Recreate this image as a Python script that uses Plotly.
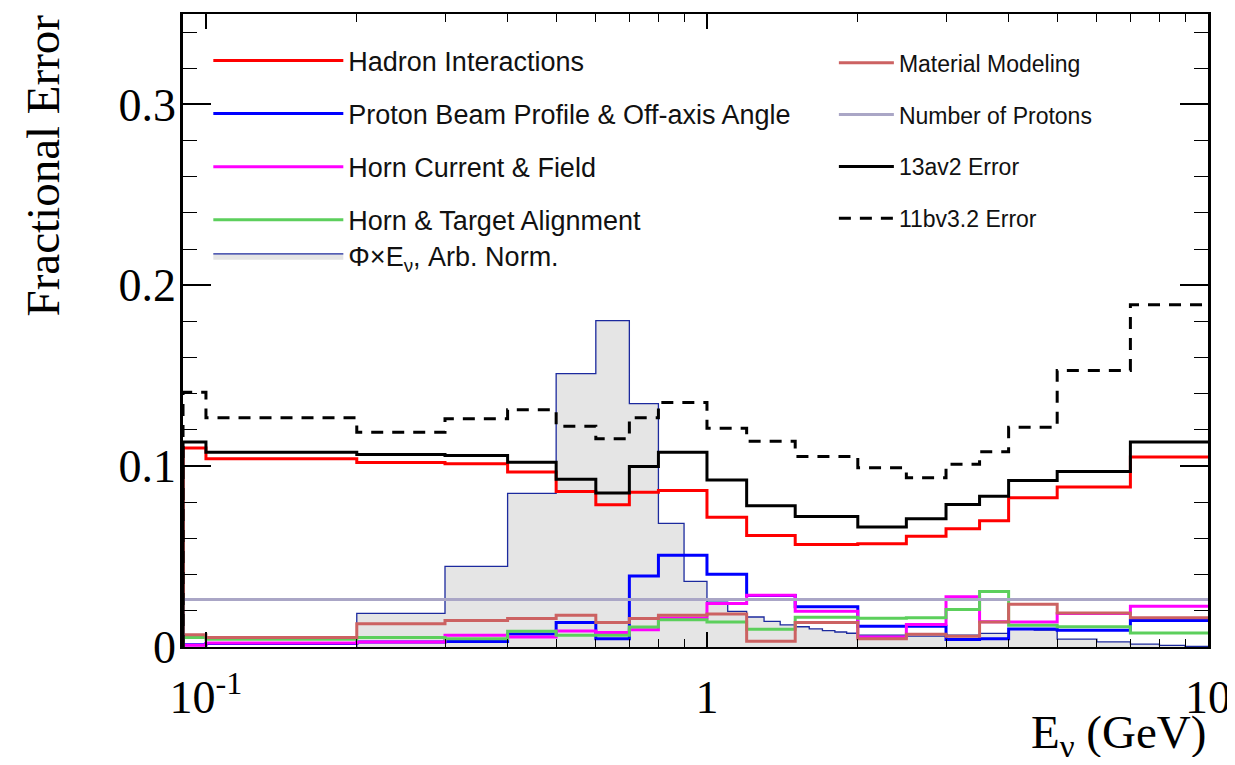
import plotly.graph_objects as go

# ---------------- data ----------------
# error binning (GeV); first bin 0-0.1 is drawn from the axis lower limit
err_edges = [0.09, 0.1, 0.2, 0.3, 0.4, 0.5, 0.6, 0.7, 0.8, 1.0, 1.2, 1.5,
             2.0, 2.5, 3.0, 3.5, 4.0, 5.0, 7.0, 10.0]

hadron = [0.110, 0.1041, 0.102, 0.1013, 0.0967, 0.086, 0.0787, 0.0855, 0.0866,
          0.0717, 0.0617, 0.0567, 0.0571, 0.0612, 0.0654, 0.0698, 0.0825, 0.0884, 0.105]
beam = [0.0012, 0.0020, 0.0028, 0.0030, 0.0072, 0.0135, 0.0046, 0.0392, 0.0507,
        0.0402, 0.0285, 0.0223, 0.0115, 0.0115, 0.0041, 0.0046, 0.0099, 0.0092, 0.0147]
horn = [0.0009, 0.0022, 0.0028, 0.0065, 0.0055, 0.0088, 0.0080, 0.0096, 0.0160,
        0.0240, 0.0286, 0.0197, 0.0055, 0.0125, 0.0278, 0.0140, 0.0138, 0.0185, 0.0226]
align = [0.0052, 0.0043, 0.0052, 0.0046, 0.0087, 0.0065, 0.0065, 0.0110, 0.0151,
         0.0138, 0.0098, 0.0164, 0.0159, 0.0162, 0.0207, 0.0307, 0.0120, 0.0112, 0.0077]
material = [0.0068, 0.0052, 0.0129, 0.0147, 0.0157, 0.0175, 0.0135, 0.0157, 0.0175,
            0.0182, 0.0032, 0.0135, 0.0045, 0.0070, 0.0059, 0.0138, 0.0236, 0.0188, 0.0162]
protons = [0.0263] * 19
total_13av2 = [0.1133, 0.1077, 0.1065, 0.1059, 0.1021, 0.0927, 0.0851, 0.0998, 0.1077,
               0.0923, 0.0781, 0.0722, 0.0663, 0.0709, 0.0788, 0.0833, 0.0921, 0.0971, 0.1133]
total_11bv32 = [0.1409, 0.1267, 0.1188, 0.1262, 0.1312, 0.1221, 0.1151, 0.1267, 0.1352,
                0.1210, 0.1138, 0.1054, 0.0991, 0.0936, 0.1011, 0.1079, 0.1215, 0.1529, 0.1893]

flux_edges = [0.2, 0.3, 0.4, 0.5, 0.6, 0.7, 0.8, 0.9, 1.0, 1.1, 1.2, 1.3, 1.4, 1.5,
              1.6, 1.7, 1.8, 1.9, 2.0, 2.5, 3.0, 3.5, 4.0, 4.5, 5.0, 6.0, 7.0, 8.0, 9.0, 10.0]
flux = [0.0186, 0.0446, 0.0849, 0.1512, 0.1805, 0.1346, 0.0683, 0.0363, 0.0248,
        0.0197, 0.0166, 0.0142, 0.0122, 0.0112, 0.0100, 0.0090, 0.0083, 0.0076,
        0.0066, 0.0060, 0.0066, 0.0075, 0.0101, 0.0094, 0.0044, 0.0028, 0.0016,
        0.0009, 0.0004]

x_ticks = [0.1, 1, 10]
x_ticktext = ["10<sup>-1</sup>", "1", "10"]
x_minor = [0.2, 0.3, 0.4, 0.5, 0.6, 0.7, 0.8, 0.9, 2, 3, 4, 5, 6, 7, 8, 9]

# ---------------- figure ----------------
def step_xy(edges, vals, rise=True):
    xs = ([edges[0]] if rise else []) + list(edges)
    ys = ([0.0] if rise else []) + list(vals) + [vals[-1]]
    return xs, ys

fig = go.Figure()

fx, fy = step_xy(flux_edges, flux)
fig.add_trace(go.Scatter(x=fx, y=fy, mode="lines", line_shape="hv",
                         line=dict(color="#1c2a9e", width=1.3),
                         fill="tozeroy", fillcolor="#e5e5e5",
                         name="Φ×E<sub>ν</sub>, Arb. Norm.", legend="legend3",
                         legendrank=5))

series = [
    ("Hadron Interactions", hadron, "#ff0000", "solid", "legend", 1),
    ("Proton Beam Profile & Off-axis Angle", beam, "#0000ff", "solid", "legend", 2),
    ("Horn Current & Field", horn, "#ff00ff", "solid", "legend", 3),
    ("Horn & Target Alignment", align, "#5ccf5c", "solid", "legend", 4),
    ("Material Modeling", material, "#cc6262", "solid", "legend2", 6),
    ("Number of Protons", protons, "#aaa6c6", "solid", "legend2", 7),
    ("13av2 Error", total_13av2, "#000000", "solid", "legend2", 8),
    ("11bv3.2 Error", total_11bv32, "#000000", "12px,9px", "legend2", 9),
]
for name, vals, col, dash, leg, rank in series:
    xs, ys = step_xy(err_edges, vals)
    fig.add_trace(go.Scatter(x=xs, y=ys, mode="lines", line_shape="hv",
                             line=dict(color=col, width=3, dash=dash),
                             name=name, legend=leg, legendgroup="g%d" % rank,
                             legendrank=rank))

serif = "Liberation Serif"
sans = "Liberation Sans"

# the page body has an 8px margin; the figure is sized to fill the window
fig.update_layout(
    width=1227, height=749,
    margin=dict(l=175, r=25, t=4, b=110),
    paper_bgcolor="white", plot_bgcolor="white",
    showlegend=True,
    legend=dict(x=0.0247, y=0.9646, xanchor="left", yanchor="top",
                font=dict(family=sans, size=27, color="#111111"),
                bgcolor="rgba(0,0,0,0)", itemwidth=130,
                traceorder="grouped", tracegroupgap=15),
    legend2=dict(x=0.635, y=0.957, xanchor="left", yanchor="top",
                 font=dict(family=sans, size=23, color="#111111"),
                 bgcolor="rgba(0,0,0,0)", itemwidth=55,
                 traceorder="grouped", tracegroupgap=19),
    legend3=dict(x=0.0247, y=0.656, xanchor="left", yanchor="top",
                 font=dict(family=sans, size=27, color="#111111"),
                 bgcolor="rgba(0,0,0,0)", itemwidth=130),
    xaxis=dict(type="log", range=[-1.0458, 1.0], tickmode="array",
               tickvals=x_ticks, ticktext=x_ticktext,
               ticks="inside", ticklen=15, tickwidth=1.5, tickcolor="black",
               minor=dict(tickmode="array", tickvals=x_minor, ticks="inside",
                          ticklen=8, tickwidth=1.2, tickcolor="black"),
               showline=True, linecolor="black", linewidth=2, mirror="allticks",
               showgrid=False, zeroline=False,
               tickfont=dict(family=serif, size=46, color="black"),
               ticklabelstandoff=9, ticklabeloverflow="allow"),
    yaxis=dict(range=[0, 0.35], tickmode="linear", tick0=0, dtick=0.1,
               ticks="inside", ticklen=28, tickwidth=1.5, tickcolor="black",
               minor=dict(dtick=0.02, ticks="inside", ticklen=14, tickwidth=1.2,
                          tickcolor="black"),
               showline=True, linecolor="black", linewidth=2.5, mirror="allticks",
               showgrid=False, zeroline=False,
               tickfont=dict(family=serif, size=46, color="black"),
               ticklabelstandoff=-5),
    annotations=[
        dict(text="Fractional Error", xref="paper", yref="paper",
             x=-0.137, y=0.76, xanchor="center", yanchor="middle",
             textangle=-90, showarrow=False,
             font=dict(family=serif, size=47, color="black")),
        dict(text="E<sub>ν</sub> (GeV)", xref="paper", yref="paper",
             x=1.0, y=-0.14, xanchor="right", yanchor="middle",
             showarrow=False, font=dict(family=serif, size=47, color="black")),
    ],
)

fig.write_html("out.html")
